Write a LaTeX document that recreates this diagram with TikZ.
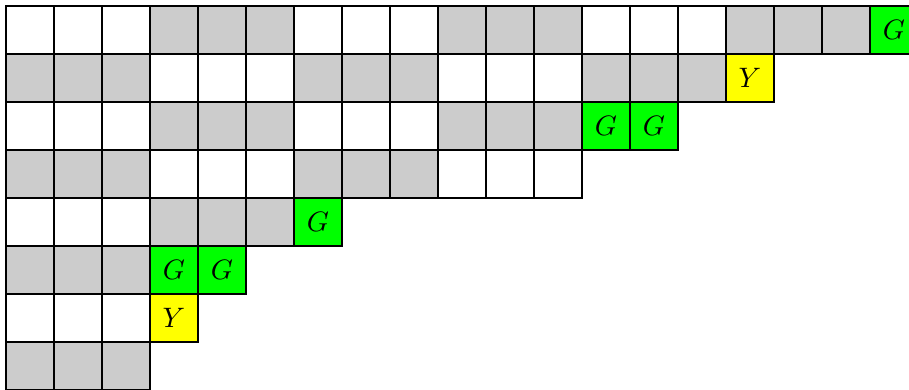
\documentclass[tikz,border=0pt]{standalone}
\usepackage{tikz}

\definecolor{gris}{gray}{0.8}
\definecolor{verde}{rgb}{0,1,0}
\definecolor{amarillo}{rgb}{1,1,0}

\tikzset{
  celda/.style={draw, minimum size=0.6cm, inner sep=0pt, outer sep=0pt}
}

\begin{document}
\begin{tikzpicture}[x=0.6cm, y=0.6cm]

 % --- MARCO (recorte del diagrama) ---
 \useasboundingbox (-0.125,-8) rectangle (18.8125,0.125);

 % --- CELDAS BLANCAS Y GRISES ---
 % \r = fila, \n = numero de celdas normales en la fila
 % bloques de 3 celdas que alternan blanco y gris
 \foreach \r/\n in {0/18,1/15,2/12,3/12,4/6,5/3,6/3,7/3}{
   \foreach \c in {1,...,\n}{
     \pgfmathtruncatemacro{\paridad}{mod(int((\c-1)/3)+\r,2)}
     \ifnum\paridad=1 \def\colcelda{gris}\else\def\colcelda{white}\fi
     \node[celda, fill=\colcelda] (c-\r-\c) at (\c-0.5,-\r-0.5) {};
   }
 }

 % --- CELDAS MARCADAS ---
 % verdes (G)
 \foreach \r/\c in {0/19,2/13,2/14,4/7,5/4,5/5}{
   \node[celda, fill=verde] (g-\r-\c) at (\c-0.5,-\r-0.5) {$G$};
 }
 % amarillas (Y)
 \foreach \r/\c in {1/16,6/4}{
   \node[celda, fill=amarillo] (y-\r-\c) at (\c-0.5,-\r-0.5) {$Y$};
 }

\end{tikzpicture}
\end{document}
